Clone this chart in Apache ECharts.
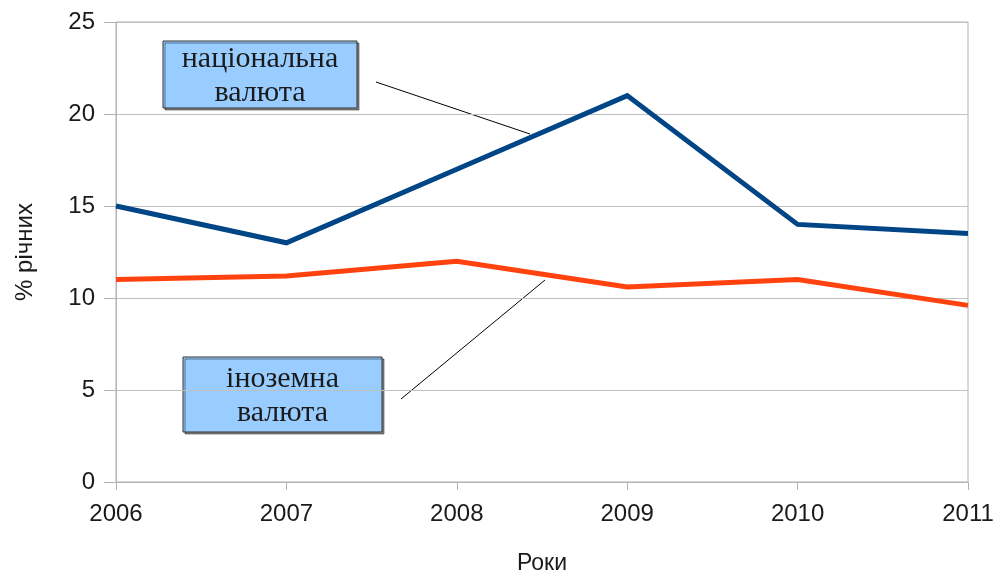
<!DOCTYPE html>
<html>
<head>
<meta charset="utf-8">
<script src="https://cdn.jsdelivr.net/npm/echarts@6/dist/echarts.min.js"></script>
<style>
html,body{margin:0;padding:0;background:#fff;}
#chart{width:995px;height:574px;}
</style>
</head>
<body>
<div id="chart"></div>
<script>
const years = ['2006', '2007', '2008', '2009', '2010', '2011'];
const nationalCurrency = [15, 13, 17, 21, 14, 13.5];
const foreignCurrency = [11, 11.2, 12, 10.6, 11, 9.6];
const yTicks = [0, 5, 10, 15, 20, 25];
const xAxisName = 'Роки';
const yAxisName = '% річних';
const labelNational = 'національна\nвалюта';
const labelForeign = 'іноземна\nвалюта';

const chart = echarts.init(document.getElementById('chart'), null, {renderer: 'canvas'});

function callout(x, y, w, h, text) {
  return {
    type: 'group',
    x: x, y: y,
    children: [
      {type: 'rect', shape: {x: 0, y: 0, width: w, height: h},
       style: {fill: '#99ccff', stroke: '#333', lineWidth: 1,
               shadowBlur: 0, shadowOffsetX: 2, shadowOffsetY: 2, shadowColor: 'rgba(0,0,0,0.45)'}},
      {type: 'text', x: w / 2, y: h / 2 + 2,
       style: {text: text, fill: '#1a1a1a', font: '30px "Liberation Serif", "DejaVu Serif", serif',
               align: 'center', verticalAlign: 'middle', lineHeight: 34}}
    ]
  };
}

const option = {
  animation: false,
  backgroundColor: '#ffffff',
  grid: {left: 116, right: 27, top: 22, bottom: 92, show: true, borderColor: '#b3b3b3', borderWidth: 1,
         containLabel: false, outerBoundsMode: 'none'},
  xAxis: {
    type: 'category',
    data: years,
    boundaryGap: false,
    name: xAxisName,
    nameLocation: 'middle',
    nameGap: 70,
    nameTextStyle: {fontSize: 23, color: '#1a1a1a', fontFamily: 'Liberation Sans'},
    axisLine: {show: true, lineStyle: {color: '#b3b3b3', width: 1}},
    axisTick: {show: true, length: 8, lineStyle: {color: '#b3b3b3'}},
    axisLabel: {fontSize: 24, color: '#1a1a1a', fontFamily: 'Liberation Sans', margin: 20},
    splitLine: {show: false}
  },
  yAxis: {
    type: 'value',
    min: yTicks[0],
    max: yTicks[yTicks.length - 1],
    interval: 5,
    name: yAxisName,
    nameLocation: 'middle',
    nameGap: 79,
    nameRotate: 90,
    nameTextStyle: {fontSize: 24, color: '#1a1a1a', fontFamily: 'Liberation Sans'},
    axisLine: {show: true, lineStyle: {color: '#b3b3b3', width: 1}},
    axisTick: {show: true, length: 12, lineStyle: {color: '#b3b3b3'}},
    axisLabel: {fontSize: 24, color: '#1a1a1a', fontFamily: 'Liberation Sans', margin: 21},
    splitLine: {show: true, lineStyle: {color: '#c0c0c0', width: 1}}
  },
  series: [
    {name: 'національна валюта', type: 'line', data: nationalCurrency, symbol: 'none',
     lineStyle: {color: '#004586', width: 5, join: 'miter'}, itemStyle: {color: '#004586'}},
    {name: 'іноземна валюта', type: 'line', data: foreignCurrency, symbol: 'none',
     lineStyle: {color: '#ff420e', width: 5, join: 'miter'}, itemStyle: {color: '#ff420e'}}
  ],
  graphic: [
    {type: 'line', shape: {x1: 376, y1: 82, x2: 530, y2: 134}, style: {stroke: '#000', lineWidth: 1}},
    {type: 'line', shape: {x1: 401, y1: 399, x2: 545, y2: 280}, style: {stroke: '#000', lineWidth: 1}},
    callout(163, 41, 194, 67, labelNational),
    callout(183, 357, 199, 75, labelForeign)
  ]
};
chart.setOption(option);
</script>
</body>
</html>
